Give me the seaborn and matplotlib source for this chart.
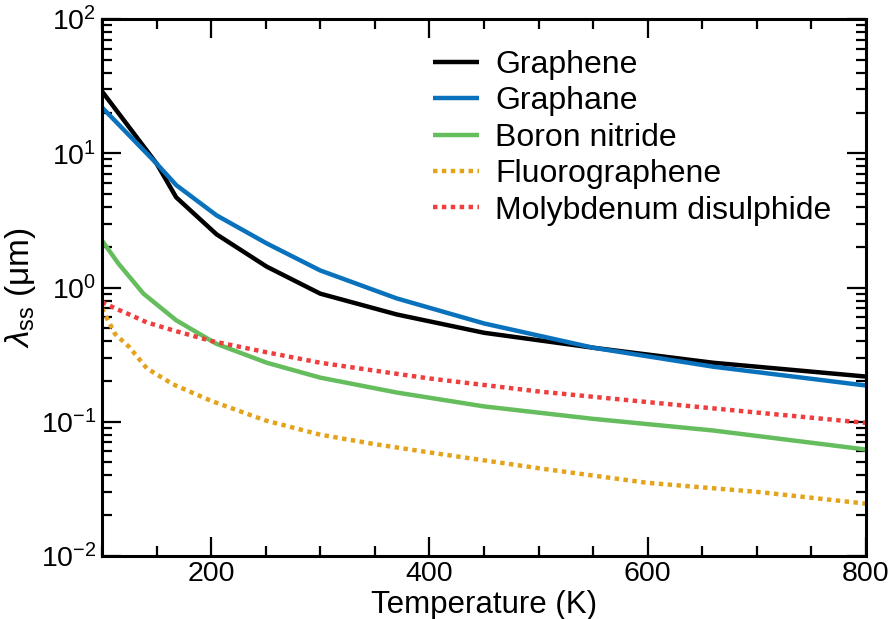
import numpy as np
import pandas as pd
import matplotlib
matplotlib.use("Agg")
import matplotlib.pyplot as plt
import seaborn as sns
from matplotlib.ticker import LogLocator, MultipleLocator, LogFormatterSciNotation

# ---- data ----
T_solid = [100, 150, 168, 205, 251, 300, 370, 450, 550, 660, 800]
graphene = [29, 8.4, 4.7, 2.49, 1.43, 0.90, 0.63, 0.46, 0.356, 0.275, 0.217]
graphane = [22, 8.4, 5.8, 3.45, 2.13, 1.34, 0.83, 0.54, 0.356, 0.257, 0.186]

T_bn = [100, 115, 138, 168, 205, 251, 300, 370, 450, 550, 660, 800]
boron_nitride = [2.24, 1.51, 0.90, 0.57, 0.38, 0.275, 0.213, 0.165, 0.13, 0.105, 0.086, 0.062]

T_dot = [100, 112, 125, 141, 165, 200, 250, 300, 350, 400, 500, 600, 700, 800]
fluorographene = [0.70, 0.45, 0.36, 0.25, 0.19, 0.143, 0.102, 0.080, 0.068, 0.059, 0.045, 0.035, 0.030, 0.0245]
mos2 = [0.78, 0.70, 0.63, 0.55, 0.48, 0.40, 0.33, 0.275, 0.24, 0.21, 0.168, 0.14, 0.117, 0.098]

labels = ["Graphene", "Graphane", "Boron nitride", "Fluorographene", "Molybdenum disulphide"]
colors = ["#000000", "#0a72bd", "#66bd5e", "#e3a41c", "#ef3e3e"]

sns.set_style("ticks")
plt.rcParams["font.family"] = ["Liberation Sans", "DejaVu Sans"]
plt.rcParams["mathtext.fontset"] = "custom"
plt.rcParams["mathtext.rm"] = "Liberation Sans"
plt.rcParams["mathtext.it"] = "Liberation Sans:italic"
plt.rcParams["mathtext.bf"] = "Liberation Sans:bold"
plt.rcParams["axes.unicode_minus"] = False
for k in ["text.color", "axes.labelcolor", "xtick.color", "ytick.color", "axes.edgecolor"]:
    plt.rcParams[k] = "black"

fig = plt.figure(figsize=(8.9, 6.19), dpi=100)
ax = fig.add_axes([0.1146, 0.102, 0.973 - 0.1146, 0.969 - 0.102])

series = [
    (T_solid, graphene, "-"),
    (T_solid, graphane, "-"),
    (T_bn, boron_nitride, "-"),
    (T_dot, fluorographene, (0, (1, 1))),
    (T_dot, mos2, (0, (1, 1))),
]
for (t, v, ls), lab, col in zip(series, labels, colors):
    df = pd.DataFrame({"T": t, "v": v})
    sns.lineplot(data=df, x="T", y="v", ax=ax, color=col, linewidth=3.2,
                 label=lab, linestyle=ls)
for ln in ax.get_lines():
    ln.set_dash_capstyle("butt")
    ln.set_solid_capstyle("butt")

ax.set_yscale("log")
ax.set_xlim(100, 800)
ax.set_ylim(1e-2, 1e2)
ax.xaxis.set_major_locator(MultipleLocator(200))
ax.xaxis.set_minor_locator(MultipleLocator(50))
ax.yaxis.set_major_locator(LogLocator(base=10, numticks=10))
ax.yaxis.set_minor_locator(LogLocator(base=10, subs=np.arange(2, 10), numticks=20))
ax.yaxis.set_major_formatter(LogFormatterSciNotation())
ax.tick_params(which="both", direction="in", top=True, right=True, labelsize=20.5,
               width=1.6, color="black", labelcolor="black")
ax.tick_params(which="major", length=14, pad=4)
ax.tick_params(which="minor", length=7)
for s in ax.spines.values():
    s.set_linewidth(2.2)
    s.set_color("black")

ax.set_xlabel("Temperature (K)", fontsize=22.5, va="baseline")
ax.xaxis.set_label_coords(0.5, (556 - 613) / 537)
ax.set_ylabel(r"$\lambda_{\mathrm{ss}}$ (μm)", fontsize=24, labelpad=2)

leg = ax.legend(loc="upper left", bbox_to_anchor=(433 / 890, 1 - 50 / 619),
                bbox_transform=fig.transFigure, frameon=False, fontsize=23,
                borderpad=0, borderaxespad=0,
                handlelength=1.45, handletextpad=0.5, labelspacing=0.2)
for h in leg.get_lines():
    h.set_linewidth(3.2)

fig.savefig("out.png", dpi=100)
